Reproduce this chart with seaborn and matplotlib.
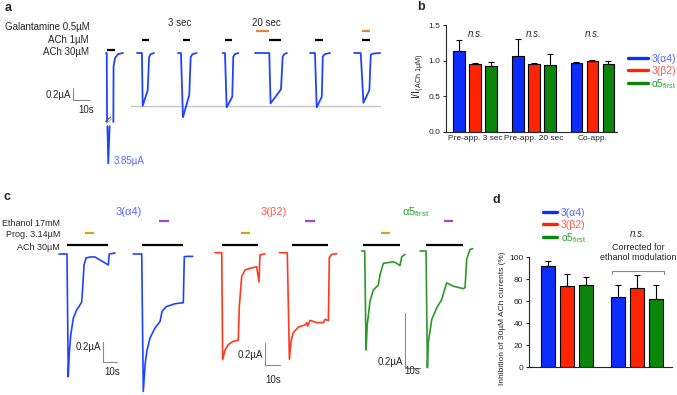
import numpy as np
import pandas as pd
import matplotlib
matplotlib.use("Agg")
import matplotlib.pyplot as plt
from matplotlib.lines import Line2D
from matplotlib.transforms import blended_transform_factory
import seaborn as sns

W, H = 677, 395

# --- colours
BAR_COLORS = ["#0b2dff", "#ff2400", "#0a870a"]
TRACE_COLORS = ["#1f43ff", "#ff3a1c", "#2a9a2a"]
TEXT_COLORS = ["#5566ff", "#ff5a4a", "#2fa02f"]
GAL_COLOR = "#e0873a"
PROG_COLOR = "#d8a21c"
ETH_COLOR = "#9a4cc4"

RECEPTORS = ["3(α4)", "3(β2)", "α5$_{\\mathrm{first}}$"]

# --- panel b: I / I(ACh 1µM)
B_GROUPS = ["Pre-app. 3 sec", "Pre-app. 20 sec", "Co-app."]
B_MEAN_A4 = [1.14, 1.07, 0.97]
B_MEAN_B2 = [0.952, 0.947, 0.999]
B_MEAN_A5 = [0.928, 0.942, 0.947]
B_ERR_A4 = [0.15, 0.23, 0.01]
B_ERR_B2 = [0.01, 0.02, 0.005]
B_ERR_A5 = [0.057, 0.155, 0.042]

# --- panel d: inhibition of 30µM ACh currents (%)
D_GROUPS = ["Progesterone", "Corrected"]
D_MEAN_A4 = [92.0, 63.4]
D_MEAN_B2 = [74.0, 72.0]
D_MEAN_A5 = [74.5, 62.2]
D_ERR_A4 = [4.0, 11.6]
D_ERR_B2 = [11.0, 11.5]
D_ERR_A5 = [7.2, 12.2]

# --- panel a traces (time in s, current in µA)
A1_UP_T = [0.0, 0.4, 0.6]
A1_UP_I = [0.0, 0.0, -1.15]
A1_REC_T = [4.3, 4.4, 5.3, 7.1, 10.0]
A1_REC_I = [-1.15, -0.23, -0.08, -0.017, 0.0]
A1_LOW_T = [0.8, 1.3, 2.1]
A1_LOW_I = [-1.22, -1.84, -1.22]
A2_T = [0, 2.9, 3.35, 6.3, 7.1, 8.0, 10.0]
A2_I = [0, 0, -0.88, -0.62, -0.07, -0.02, 0]
A3_T = [0, 1.76, 2.94, 6.65, 7.47, 8.5, 11.0]
A3_I = [0, 0, -1.07, -0.70, -0.07, -0.02, 0]
A4_T = [0, 1.35, 2.35, 5.65, 6.25, 7.2, 9.2]
A4_I = [0, 0, -0.905, -0.73, -0.06, -0.02, 0]
A5_T = [0, 8.4, 9.2, 15.3, 16.3, 17.2, 18.8]
A5_I = [0, 0, -0.84, -0.605, -0.06, -0.02, 0]
A6_T = [0, 2.9, 3.9, 6.9, 7.5, 8.6, 11.8]
A6_I = [0, 0, -0.905, -0.73, -0.06, -0.02, 0]
A7_T = [0, 3.9, 5.5, 9.0, 9.8, 11.0, 15.3]
A7_I = [0, 0, -0.83, -0.62, -0.03, -0.01, 0]
A_OFFSETS = [6.5, 24.7, 48.8, 75.1, 94.1, 126.5, 152.4]
A_ACH = [(0.4, 5.3), (2.9, 7.2), (2.8, 7.1), (1.35, 5.7), (8.4, 15.3), (2.9, 7.5), (4.5, 9.4)]
A_GAL = {2: (0.4, 1.4), 4: (0.6, 8.4), 6: (4.5, 9.4)}

# --- panel c traces (time in s, current in µA)
C1_T = [0, 5.7, 6.6, 7.4, 8.4, 10.2, 12.6, 15, 16.2, 16.8, 17.9, 19.3, 22.1, 25.7, 29.3, 32.9, 35.2, 35.9, 40]
C1_I = [0, 0, -1.227, -0.977, -0.81, -0.643, -0.56, -0.51, -0.48, -0.36, -0.11, -0.04, -0.03, -0.03,
        -0.06, -0.09, -0.11, 0, 0.01]
C2_T = [0, 6, 7.1, 8.4, 9.6, 11.9, 15.5, 19.1, 20.5, 23.4, 29.8, 35.7, 36.4, 37.6, 42.4]
C2_I = [0, 0, -1.374, -1.107, -0.974, -0.84, -0.74, -0.674, -0.574, -0.527, -0.497, -0.487, -0.027,
        -0.024, -0.024]
C3_T = [0, 4.5, 5.1, 6.7, 8.9, 12.2, 15.5, 16.2, 17.8, 20, 23.3, 27.8, 29.3, 30, 33.3]
C3_I = [0, 0, -0.99, -0.90, -0.85, -0.82, -0.81, -0.50, -0.22, -0.16, -0.145, -0.13, -0.27, -0.02, -0.01]
C4_T = [0, 5.3, 6.7, 7.8, 9.3, 12.7, 17.1, 18.3, 18.9, 20.5, 25, 29.3, 30.5, 32.7, 33.3, 34.9, 38.2]
C4_I = [0, 0, -0.987, -0.817, -0.741, -0.688, -0.669, -0.648, -0.679, -0.627, -0.648, -0.648, -0.617,
        -0.627, -0.046, -0.015, -0.01]
C5_T = [0, 2, 2.9, 3.7, 5.5, 7.7, 11.1, 12.2, 14.4, 21.1, 23.3, 25.5, 26.7, 28.9]
C5_I = [0, 0, -0.36, -0.269, -0.184, -0.142, -0.124, -0.087, -0.045, -0.039, -0.045, -0.053, -0.021, -0.012]
C6_T = [0, 4, 4.9, 5.5, 7.8, 11.1, 14.5, 16.7, 17.8, 22.2, 28.9, 30, 31.1, 33.3, 35.1]
C6_I = [0, 0, -0.424, -0.333, -0.249, -0.207, -0.176, -0.134, -0.116, -0.128, -0.137, -0.133, -0.03,
        0.006, 0.008]
C_ACH = [(5.7, 35.0), (6.0, 35.7), (4.5, 28.9), (8.3, 32.7), (0.9, 25.5), (4.0, 28.7)]
C_PROG = [(18.6, 25.0), None, (17.3, 23.3), None, (12.9, 18.9), None]
C_ETH = [None, (18.4, 25.5), None, (17.1, 23.8), None, (16.0, 22.0)]

sns.set_style("ticks")
plt.rcParams["font.family"] = ["Liberation Sans", "DejaVu Sans"]
plt.rcParams["mathtext.fontset"] = "custom"
plt.rcParams["mathtext.rm"] = "Liberation Sans"
plt.rcParams["mathtext.it"] = "Liberation Sans:italic"
plt.rcParams["axes.linewidth"] = 0.8

fig = plt.figure(figsize=(W / 100, H / 100), dpi=100)


def px_axes(left, top, right, bottom):
    return fig.add_axes([left / W, 1 - bottom / H, (right - left) / W, (bottom - top) / H])


def ftext(x, y, s, **kw):
    kw.setdefault("fontsize", 7)
    kw.setdefault("va", "center")
    fig.text(x / W, 1 - y / H, s, **kw)


def trace_layer(x0, base, pps, ppu):
    ax = fig.add_axes([0, 0, 1, 1])
    ax.set_xlim(-x0 / pps, (W - x0) / pps)
    ax.set_ylim(-(H - base) / ppu, base / ppu)
    ax.set_axis_off()
    ax.patch.set_alpha(0)
    return ax


def app_bar(ax, off, span, ypx, color):
    if span is None:
        return
    tr = blended_transform_factory(ax.transData, fig.transFigure)
    ax.plot([off + span[0], off + span[1]], [1 - ypx / H] * 2, color=color, lw=1.6,
            solid_capstyle="butt", transform=tr)


def scale_bar(ax, t0, i0):
    ax.plot([t0, t0, t0 + 10], [i0 + 0.2, i0, i0], color="#8a8a8a", lw=0.8)


def bar_panel(ax, groups, means, errs):
    df = pd.DataFrame({
        "group": list(groups) * 3,
        "receptor": np.repeat(RECEPTORS, len(groups)),
        "value": np.concatenate(means),
    })
    sns.barplot(data=df, x="group", y="value", hue="receptor", hue_order=RECEPTORS,
                palette=BAR_COLORS, width=0.82, gap=0.27, edgecolor="black", linewidth=0.8,
                errorbar=None, legend=False, saturation=1, ax=ax)
    for cont, err in zip(ax.containers, errs):
        xs = [p.get_x() + p.get_width() / 2 for p in cont]
        hs = [p.get_height() for p in cont]
        ax.errorbar(xs, hs, yerr=[np.zeros(len(err)), err], fmt="none", ecolor="black",
                    elinewidth=0.8, capsize=2.5, capthick=0.8, zorder=3)
    sns.despine(ax=ax)
    ax.tick_params(axis="y", labelsize=6, length=2.5, width=0.8, pad=1.5)
    ax.tick_params(axis="x", length=0, pad=2, labelsize=6)
    ax.set_xlabel("")
    ax.set_facecolor("none")


def receptor_legend(x, y, fs, hl):
    handles = [Line2D([], [], color=c, lw=2.4) for c in BAR_COLORS]
    fig.legend(handles, RECEPTORS, loc="upper left", bbox_to_anchor=(x / W, 1 - y / H),
               frameon=False, fontsize=fs, labelcolor=TEXT_COLORS, handlelength=hl,
               handletextpad=0.35, labelspacing=0.15, borderpad=0, borderaxespad=0)


# ================= panel b =================
ax_b = px_axes(446, 25, 617, 132)
bar_panel(ax_b, B_GROUPS, [B_MEAN_A4, B_MEAN_B2, B_MEAN_A5], [B_ERR_A4, B_ERR_B2, B_ERR_A5])
ax_b.set_ylim(0, 1.5)
ax_b.set_xlim(-0.5, 2.42)
ax_b.set_yticks([0, 0.5, 1.0, 1.5])
ax_b.set_ylabel("")
for gx in range(3):
    ax_b.text(gx, 1.38, "n.s.", style="italic", fontsize=7, ha="center", va="center")
ftext(419, 76, "I/I$_{\\mathrm{(ACh\\ 1µM)}}$", fontsize=7.5, rotation=90, ha="center")
receptor_legend(628, 54, 7.5, 1.9)

# ================= panel d =================
ax_d = px_axes(529, 257, 672, 367)
bar_panel(ax_d, D_GROUPS, [D_MEAN_A4, D_MEAN_B2, D_MEAN_A5], [D_ERR_A4, D_ERR_B2, D_ERR_A5])
ax_d.set_ylim(0, 100)
ax_d.set_xlim(-0.55, 1.5)
ax_d.set_yticks(range(0, 101, 20))
ax_d.set_xticklabels([])
ax_d.set_ylabel("")
ftext(503, 318, "Inhibition of 30µM ACh currents (%)", fontsize=6, rotation=90, ha="center")
receptor_legend(543, 208, 7.5, 1.35)
ax_d.plot([0.643, 0.643, 1.386, 1.386], [84.5, 87.3, 87.3, 84.5], color="#8a8a8a", lw=0.8,
          clip_on=False)
ftext(638, 234, "n.s.", style="italic", ha="center")
ftext(638, 247.5, "Corrected for", fontsize=6.5, ha="center")
ftext(638, 257.5, "ethanol modulation", fontsize=6.5, ha="center")

# ================= panel a =================
ax_a = trace_layer(95, 53, 1.7, 60)
blue = TRACE_COLORS[0]
o = A_OFFSETS[0]
ax_a.plot(np.array(A1_UP_T) + o, A1_UP_I, color=blue, lw=1.3)
ax_a.plot(np.array(A1_REC_T) + o, A1_REC_I, color=blue, lw=1.3)
ax_a.plot(np.array(A1_LOW_T) + o, A1_LOW_I, color=blue, lw=1.3)
ax_a.plot([o - 0.3, o + 2.6], [-1.14, -1.07], color="#555555", lw=0.8)
ax_a.plot([o + 0.2, o + 3.1], [-1.17, -1.10], color="#999999", lw=0.6)
ftext(114, 161, "3.85µA", color=TEXT_COLORS[0], ha="left")
traces_a = [(A2_T, A2_I), (A3_T, A3_I), (A4_T, A4_I), (A5_T, A5_I), (A6_T, A6_I), (A7_T, A7_I)]
for k, (t, i) in enumerate(traces_a, start=1):
    ax_a.plot(np.array(t) + A_OFFSETS[k], i, color=blue, lw=1.3)
ax_a.plot([21.2, 167.6], [min(A2_I)] * 2, color="#c4c4c4", lw=1.0, zorder=0)
for k, span in enumerate(A_ACH):
    app_bar(ax_a, A_OFFSETS[k], span, 49.5 if k == 0 else 40, "black")
for k, span in A_GAL.items():
    app_bar(ax_a, A_OFFSETS[k], span, 30.5, GAL_COLOR)
scale_bar(ax_a, -12.9, -0.783)
ftext(71, 95, "0.2µA", ha="right")
ftext(86, 110, "10s", ha="center")
ftext(90, 27, "Galantamine 0.5µM", ha="right")
ftext(89, 40, "ACh 1µM", ha="right")
ftext(89, 52, "ACh 30µM", ha="right")
ftext(180, 23, "3 sec", ha="center")
ftext(266, 23, "20 sec", ha="center")

# ================= panel c =================
layers = [
    (trace_layer(59, 254, 1.4, 100), [(C1_T, C1_I, 0), (C2_T, C2_I, 53.1)], (31.2, -1.077)),
    (trace_layer(215, 252.7, 1.5, 108), [(C3_T, C3_I, 0), (C4_T, C4_I, 42.9)], (33.3, -1.04)),
    (trace_layer(361.7, 251, 1.5, 275), [(C5_T, C5_I, 0), (C6_T, C6_I, 38.9)], (28.9, -0.427)),
]
n = 0
for g, (ax, traces, sb) in enumerate(layers):
    for t, i, off in traces:
        ax.plot(np.array(t) + off, i, color=TRACE_COLORS[g], lw=1.2)
        app_bar(ax, off, C_ACH[n], 245, "black")
        app_bar(ax, off, C_PROG[n], 233, PROG_COLOR)
        app_bar(ax, off, C_ETH[n], 221, ETH_COLOR)
        n += 1
    scale_bar(ax, *sb)

ftext(60, 223, "Ethanol 17mM", fontsize=6.5, ha="right")
ftext(60, 235, "Prog. 3.14µM", fontsize=6.5, ha="right")
ftext(60, 247, "ACh 30µM", fontsize=6.5, ha="right")
ftext(129, 212, RECEPTORS[0], fontsize=8, color=TEXT_COLORS[0], ha="center")
ftext(274, 212, RECEPTORS[1], fontsize=8, color=TEXT_COLORS[1], ha="center")
ftext(416, 212, RECEPTORS[2], fontsize=8, color=TEXT_COLORS[2], ha="center")
ftext(101.5, 347, "0.2µA", ha="right")
ftext(112, 372, "10s", ha="center")
ftext(263, 355, "0.2µA", ha="right")
ftext(273, 380, "10s", ha="center")
ftext(403, 362, "0.2µA", ha="right")
ftext(412, 371, "10s", ha="center")

# panel letters
for x, y, s in [(8, 8, "a"), (421, 7, "b"), (7, 197, "c"), (496, 200, "d")]:
    ftext(x, y, s, fontsize=9, fontweight="bold", ha="center")

fig.savefig("out.png", dpi=100)
